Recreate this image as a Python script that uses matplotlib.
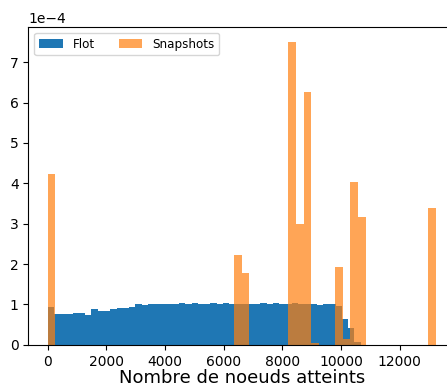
import matplotlib.pyplot as plt
import numpy as np

# histogram densities (x 1e-4), 50 bins each
flot_max = 10670
flot_dens = [0.93, 0.77, 0.77, 0.77, 0.79, 0.79, 0.75, 0.88, 0.84, 0.84,
             0.88, 0.90, 0.90, 0.94, 1.01, 0.98, 1.00, 1.02, 1.02, 1.02,
             1.02, 1.04, 1.02, 1.04, 1.02, 1.02, 1.04, 1.02, 1.04, 1.02,
             1.02, 1.02, 1.02, 1.02, 1.04, 1.02, 1.04, 1.02, 1.02, 1.04,
             1.02, 1.02, 1.01, 0.99, 1.02, 1.02, 0.97, 0.64, 0.42, 0.065]

snap_max = 13230
snap_dens = [4.24, 0, 0, 0, 0, 0, 0, 0, 0, 0,
             0, 0, 0, 0, 0, 0, 0, 0, 0, 0,
             0, 0, 0, 0, 2.22, 1.77, 0, 0, 0, 0,
             0, 7.50, 3.00, 6.26, 0.05, 0, 0, 1.93, 0.15, 4.02,
             3.17, 0, 0, 0, 0, 0, 0, 0, 0, 3.38]

flot_edges = np.linspace(0, flot_max, len(flot_dens) + 1)
snap_edges = np.linspace(0, snap_max, len(snap_dens) + 1)

fig = plt.figure(figsize=(4.47, 3.85), dpi=100)
ax = fig.add_axes([28.3 / 447, 40.2 / 385, (455 - 28.3) / 447, (344.8 - 26.8) / 385])

ax.hist(flot_edges[:-1], bins=flot_edges, weights=np.array(flot_dens) * 1e-4, label='Flot')
ax.hist(snap_edges[:-1], bins=snap_edges, weights=np.array(snap_dens) * 1e-4,
        alpha=0.7, label='Snapshots')

ax.ticklabel_format(axis='y', style='sci', scilimits=(0, 0))
ax.set_xlabel('Nombre de noeuds atteints', fontsize=13, labelpad=0)
ax.legend(loc='upper left', ncol=2, fontsize=8.6)

fig.savefig('out.png', dpi=100)
